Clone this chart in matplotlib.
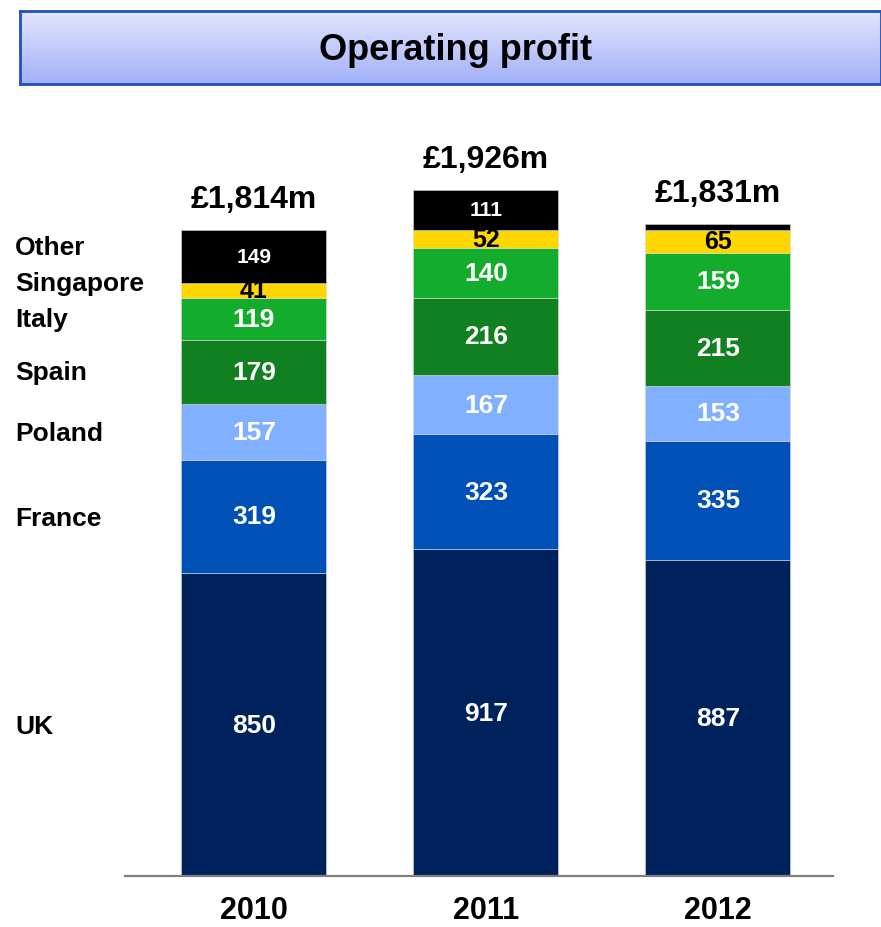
import numpy as np
import matplotlib

matplotlib.use("Agg")
import matplotlib.pyplot as plt
from matplotlib.colors import LinearSegmentedColormap
from matplotlib.transforms import blended_transform_factory

plt.rcParams["font.family"] = ["Liberation Sans", "DejaVu Sans"]
plt.rcParams["font.weight"] = "bold"

years = ["2010", "2011", "2012"]
regions = ["UK", "France", "Poland", "Spain", "Italy", "Singapore", "Other"]
uk = [850, 917, 887]
france = [319, 323, 335]
poland = [157, 167, 153]
spain = [179, 216, 215]
italy = [119, 140, 159]
singapore = [41, 52, 65]
other = [149, 111, 17]
totals = ["£1,814m", "£1,926m", "£1,831m"]
title = "Operating profit"

series = [uk, france, poland, spain, italy, singapore, other]
colors = ["#00225C", "#0050B8", "#80B0FF", "#118021", "#14AC2C", "#FFD700", "#000000"]
text_colors = ["white"] * 5 + ["black", "white"]
label_sizes = [19, 19, 19, 19, 19, 18, 15]
show_min = 30  # segments this small get no value label

W, H = 881, 928
fig = plt.figure(figsize=(W / 100, H / 100), dpi=100)

# title banner with vertical gradient
tax = fig.add_axes([20 / W, 1 - 85 / H, (W - 20) / W, 73 / H])
grad = np.linspace(0, 1, 256).reshape(-1, 1)
cmap = LinearSegmentedColormap.from_list("banner", ["#E2E6FD", "#A2B0F9"])
tax.imshow(grad, aspect="auto", cmap=cmap, extent=[0, 1, 0, 1], origin="upper")
tax.set_xlim(0, 1)
tax.set_ylim(0, 1)
tax.set_xticks([])
tax.set_yticks([])
for s in tax.spines.values():
    s.set_color("#2050C0")
    s.set_linewidth(2)
tax.text(0.506, 0.47, title, ha="center", va="center", fontsize=26,
         fontweight="bold", color="black")

# main chart
ax = fig.add_axes([125 / W, (H - 877) / H, (833 - 125) / W, 748 / H])
x = np.arange(len(years))
bottom = np.zeros(len(years))
width = 0.625
for vals, col, tc, fs in zip(series, colors, text_colors, label_sizes):
    vals = np.array(vals, dtype=float)
    ax.bar(x, vals, width, bottom=bottom, color=col, edgecolor="#D8D8D8", linewidth=0.4)
    for xi, v, b in zip(x, vals, bottom):
        if v >= show_min:
            ax.text(xi, b + v / 2, f"{int(v)}", ha="center", va="center",
                    color=tc, fontsize=fs, fontweight="bold")
    bottom += vals

for xi, t, top in zip(x, totals, bottom):
    ax.text(xi, top + 45, t, ha="center", va="bottom", fontsize=23, fontweight="bold")

ax.set_xlim(-0.556, 2.496)
ax.set_ylim(0, 2100)
ax.set_yticks([])
ax.set_xticks(x)
ax.set_xticklabels(years, fontsize=22, fontweight="bold")
ax.tick_params(axis="x", length=0, pad=14)
for side in ("left", "right", "top"):
    ax.spines[side].set_visible(False)
ax.spines["bottom"].set_color("#808080")
ax.spines["bottom"].set_linewidth(1.6)

# region labels on the left, aligned to the 2010 stack
lab_tr = blended_transform_factory(fig.transFigure, ax.transData)
cum = 0
offsets = [-5, -5, -3, 0, 0, 20, 27]
for name, vals, off in zip(regions, series, offsets):
    mid = cum + vals[0] / 2 + off
    cum += vals[0]
    ax.text(15 / W, mid, name, transform=lab_tr, ha="left",
            va="center", fontsize=19, fontweight="bold")

fig.savefig("out.png", dpi=100)
